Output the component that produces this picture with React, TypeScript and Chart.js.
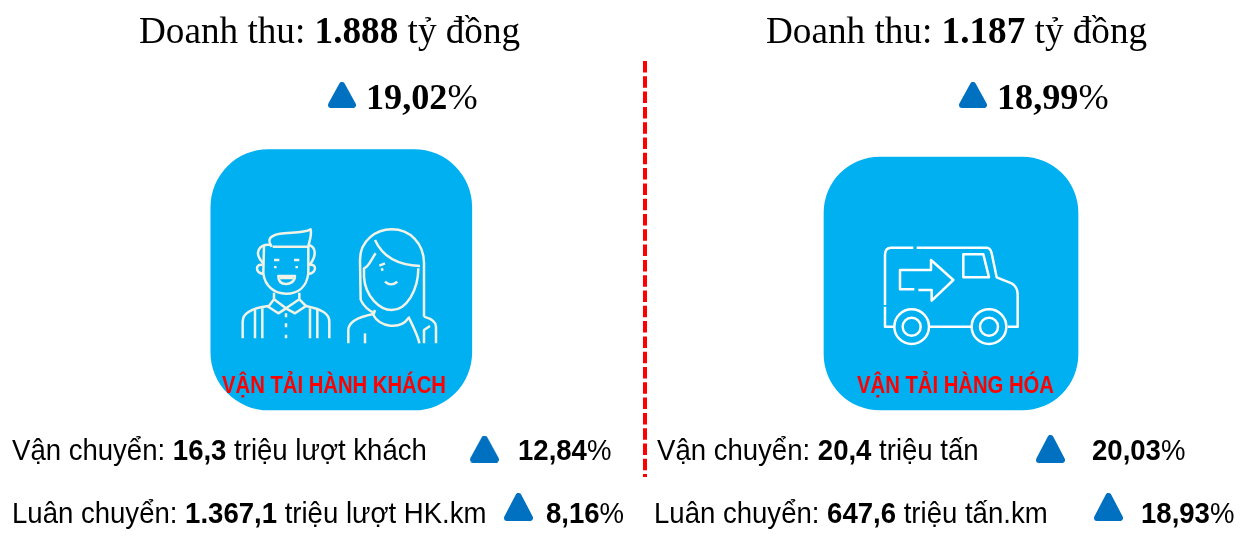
import React, { useEffect, useRef } from "react";
import { Chart, registerables } from "chart.js";

Chart.register(...registerables);

// ---------- content ----------
const segmentNames = ["VẬN TẢI HÀNH KHÁCH", "VẬN TẢI HÀNG HÓA"];
const revenueValues = ["1.888", "1.187"];
const revenueGrowth = ["19,02", "18,99"];
const transportLabels = ["Vận chuyển: ", "Vận chuyển: "];
const transportValues = ["16,3", "20,4"];
const transportUnits = [" triệu lượt khách", " triệu tấn"];
const transportGrowth = ["12,84", "20,03"];
const turnoverLabels = ["Luân chuyển: ", "Luân chuyển: "];
const turnoverValues = ["1.367,1", "647,6"];
const turnoverUnits = [" triệu lượt HK.km", " triệu tấn.km"];
const turnoverGrowth = ["8,16", "18,93"];

// ---------- layout ----------
const W = 1247;
const H = 542;
const SERIF = '"Liberation Serif"';
const SANS = '"Liberation Sans"';
const BLUE = "#0070C0";
const CYAN = "#00B0F0";

const panels = [
  { cx: 341.3, w: 261, top: 149.5, bottom: 410, r: 58 },
  { cx: 951, w: 254, top: 157, bottom: 410, r: 56 },
];
const triangles = [
  { x: 342, y: 95, w: 28, h: 26 },
  { x: 973, y: 95, w: 28, h: 26 },
  { x: 484.5, y: 449, w: 29, h: 27 },
  { x: 1050.5, y: 449, w: 29, h: 28 },
  { x: 518.5, y: 507, w: 29, h: 28 },
  { x: 1108.5, y: 507, w: 29, h: 28 },
];

function triangleImage(w: number, h: number) {
  const c = document.createElement("canvas");
  c.width = w;
  c.height = h;
  const g = c.getContext("2d")!;
  const m = 3;
  g.fillStyle = BLUE;
  g.strokeStyle = BLUE;
  g.lineWidth = m * 2;
  g.lineJoin = "round";
  g.beginPath();
  g.moveTo(w / 2, m);
  g.lineTo(w - m, h - m);
  g.lineTo(m, h - m);
  g.closePath();
  g.fill();
  g.stroke();
  return c;
}

type Run = { t: string; b?: boolean };
function drawRuns(
  ctx: CanvasRenderingContext2D,
  runs: Run[],
  x: number,
  y: number,
  size: number,
  family: string,
  hScale = 1
) {
  ctx.save();
  ctx.translate(x, y);
  ctx.scale(hScale, 1);
  let cx = 0;
  for (const r of runs) {
    ctx.font = `${r.b ? "bold " : ""}${size}px ${family}`;
    ctx.fillText(r.t, cx, 0);
    cx += ctx.measureText(r.t).width;
  }
  ctx.restore();
}

const manPaths = [
  "M215 320C198 296 215 285 240 281C270 276 310 281 332 268C336 290 326 308 325 320L218 320",
  "M192 316L190 400C195 440 225 461 258 461C295 461 320 440 325 400L325 320",
  "M215 315C175 310 160 340 190 370",
  "M325 315C350 320 350 350 328 375",
  "M188 375C165 370 165 398 190 402",
  "M328 375C352 370 350 398 325 402",
  "M235 408L285 408C285 425 270 432 258 432C245 432 235 425 235 408Z",
  "M240 414L280 414",
  "M222 360L238 360M226 378L226 385M282 360L298 360M290 378L290 385",
  "M222 458L222 478M298 458L298 478",
  "M222 478L258 505L298 478",
  "M222 478L205 500L235 520L258 505L285 520L318 498L298 478",
  "M128 595L128 545C128 520 150 505 205 498",
  "M388 595L388 545C388 520 365 508 318 498",
  "M165 510L165 595M187 505L187 595M330 505L330 595M352 510L352 595",
  "M258 520L258 532M258 550L258 562M258 584L258 595",
];
const womanPaths = [
  "M482 480L480 360C480 300 530 268 575 268C630 268 672 310 672 370L672 530",
  "M525 300C545 345 590 375 660 378",
  "M527 340C512 360 507 380 492 385L492 410C495 470 540 510 575 510C620 510 655 450 655 385",
  "M482 480C490 495 500 510 522 518",
  "M525 510L520 525C540 562 600 570 625 535",
  "M445 610L445 570C445 545 480 530 520 522",
  "M495 610L495 580",
  "M625 530C640 560 655 590 658 610",
  "M708 610L708 560C708 545 690 535 672 530",
  "M672 610L672 570L690 558",
  "M538 377L555 370M545 385L548 392",
  "M555 425C565 435 580 435 592 425",
];
const truckPaths = [
  "M295 293L228 293C215 293 210 300 210 315L210 465",
  "M305 293L515 293C525 293 528 300 530 310L545 382L590 400C605 408 608 420 608 435L608 530L578 530",
  "M210 470L210 530L237 530",
  "M345 530L470 530",
  "M445 313L505 313L522 382L445 382Z",
  "M298 418L255 418L255 360L348 360L348 330L415 390L350 452L350 420L310 420",
  "M342 530A52 52 0 1 0 238 530A52 52 0 1 0 342 530Z",
  "M317 530A27 27 0 1 0 263 530A27 27 0 1 0 317 530Z",
  "M574 530A52 52 0 1 0 470 530A52 52 0 1 0 574 530Z",
  "M549 530A27 27 0 1 0 495 530A27 27 0 1 0 549 530Z",
];

function strokeIcon(ctx: CanvasRenderingContext2D, paths: string[], ox: number, oy: number, color: string, width: number) {
  ctx.save();
  ctx.translate(ox, oy);
  ctx.scale(1 / 3, 1 / 3);
  ctx.filter = "blur(0.55px)";
  ctx.strokeStyle = color;
  ctx.lineWidth = width * 3;
  ctx.lineCap = "butt";
  ctx.lineJoin = "round";
  paths.forEach((p) => ctx.stroke(new Path2D(p)));
  ctx.restore();
}

const infographicPlugin = {
  id: "infographic",
  afterDatasetsDraw(chart: any) {
    const ctx: CanvasRenderingContext2D = chart.ctx;
    ctx.save();
    strokeIcon(ctx, manPaths, 200, 140, "#F1F3E6", 2.5);
    strokeIcon(ctx, womanPaths, 200, 140, "#F1F3E6", 2.5);
    strokeIcon(ctx, truckPaths, 815, 150, "#FFFFFF", 2.5);

    ctx.filter = "blur(0.3px)";
    ctx.textBaseline = "alphabetic";
    ctx.textAlign = "left";
    ctx.fillStyle = "#000";
    const titleX = [139, 766];
    const growthX = [366, 997];
    const row1X = [12, 657];
    const row2X = [12, 654];
    const row1PctX = [518, 1092];
    const row2PctX = [546, 1141];
    const rowSize = 29;
    const rowScale = 0.95;
    [0, 1].forEach((i) => {
      drawRuns(ctx, [{ t: "Doanh thu: " }, { t: revenueValues[i], b: true }, { t: " tỷ đồng" }], titleX[i], 43, 37.2, SERIF);
      drawRuns(ctx, [{ t: revenueGrowth[i], b: true }, { t: "%" }], growthX[i], 109, 36.2, SERIF);
      drawRuns(ctx, [{ t: transportLabels[i] }, { t: transportValues[i], b: true }, { t: transportUnits[i] }], row1X[i], 460, rowSize, SANS, rowScale);
      drawRuns(ctx, [{ t: transportGrowth[i], b: true }, { t: "%" }], row1PctX[i], 460, rowSize, SANS, rowScale);
      drawRuns(ctx, [{ t: turnoverLabels[i] }, { t: turnoverValues[i], b: true }, { t: turnoverUnits[i] }], row2X[i], 523, rowSize, SANS, rowScale);
      drawRuns(ctx, [{ t: turnoverGrowth[i], b: true }, { t: "%" }], row2PctX[i], 523, rowSize, SANS, rowScale);
    });

    ctx.fillStyle = "#FF0000";
    ctx.font = `bold 24px ${SANS}`;
    ctx.fillText(segmentNames[0], 222, 393, 224);
    ctx.fillText(segmentNames[1], 857, 393, 197);
    ctx.restore();
  },
};

export default function App() {
  const ref = useRef<HTMLCanvasElement>(null);
  useEffect(() => {
    document.body.style.margin = "0";
    document.body.style.background = "#fff";
    const chart = new Chart(ref.current!, {
      type: "scatter",
      data: {
        datasets: [
          ...panels.map((p) => ({
            type: "bar" as const,
            data: [{ x: p.cx, y: [p.top, p.bottom] }],
            backgroundColor: CYAN,
            borderRadius: p.r,
            borderSkipped: false,
            barThickness: p.w,
            grouped: false,
            order: 3,
          })),
          {
            type: "line" as const,
            data: [
              { x: 645, y: 61 },
              { x: 645, y: 477 },
            ],
            borderColor: "#FF0000",
            borderWidth: 4,
            borderDash: [11.5, 3.8],
            pointRadius: 0,
            order: 2,
          },
          {
            type: "scatter" as const,
            data: triangles.map((t) => ({ x: t.x, y: t.y })),
            pointStyle: triangles.map((t) => triangleImage(t.w, t.h)),
            pointRadius: 14,
            order: 1,
          },
        ],
      } as any,
      options: {
        animation: false,
        responsive: false,
        events: [],
        layout: { padding: 0, autoPadding: false },
        plugins: { legend: { display: false }, tooltip: { enabled: false }, title: { display: false } },
        scales: {
          x: { type: "linear", display: false, min: 0, max: W, offset: false },
          y: { type: "linear", display: false, min: 0, max: H, reverse: true },
        },
      } as any,
      plugins: [infographicPlugin],
    });
    return () => chart.destroy();
  }, []);
  return (
    <canvas
      ref={ref}
      width={W}
      height={H}
      style={{ position: "absolute", left: 0, top: 0, display: "block", width: W, height: H }}
    />
  );
}
